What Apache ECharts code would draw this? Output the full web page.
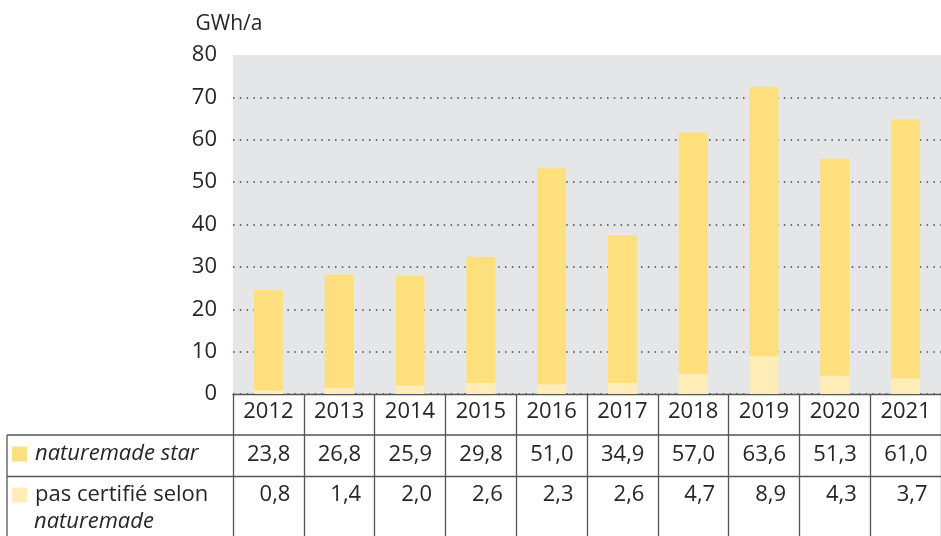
<!DOCTYPE html>
<html>
<head>
<meta charset="utf-8">
<script src="https://cdn.jsdelivr.net/npm/echarts@6/dist/echarts.min.js"></script>
<style>
    html, body { margin: 0; padding: 0; background: #fff; }
    #chart { width: 941px; height: 536px; }
</style>
</head>
<body>
<div id="chart"></div>
<script>
// data
const years = ['2012', '2013', '2014', '2015', '2016', '2017', '2018', '2019', '2020', '2021'];
const starValues = [23.8, 26.8, 25.9, 29.8, 51.0, 34.9, 57.0, 63.6, 51.3, 61.0];
const otherValues = [0.8, 1.4, 2.0, 2.6, 2.3, 2.6, 4.7, 8.9, 4.3, 3.7];
const yMin = 0, yMax = 80, yStep = 10;
const unitLabel = 'GWh/a';
const starName = 'naturemade star';
const otherName = 'pas certifié selon naturemade';

const FONT = 'Open Sans';
const SIZE = 22;
const TEXT = '#262626';
const LINE = '#555';
const STAR = '#fedf7e';
const OTHER = '#ffedb8';

const fmt = v => v.toFixed(1).replace('.', ',');

const chart = echarts.init(document.getElementById('chart'), null, { renderer: 'canvas' });

chart.setOption({
    animation: false,
    textStyle: { fontFamily: FONT },
    grid: {
        left: 233, top: 55, width: 717, bottom: 142,
        show: true, backgroundColor: '#e5e6e8', borderWidth: 0
    },
    legend: {
        orient: 'vertical',
        left: 12, top: 443, padding: 0,
        itemWidth: 15, itemHeight: 15, itemGap: 19,
        icon: 'rect',
        selectedMode: false,
        data: [starName, otherName],
        formatter: name => name === starName ? '{i|' + name + '}' : '{n|pas certifié selon}',
        textStyle: {
            color: TEXT, fontSize: SIZE, padding: [0, 0, 0, 3],
            rich: {
                i: { fontStyle: 'italic', fontSize: SIZE, color: TEXT, fontFamily: FONT, lineHeight: 24 },
                n: { fontSize: SIZE, color: TEXT, fontFamily: FONT, lineHeight: 24 }
            }
        }
    },
    xAxis: {
        type: 'category',
        data: years,
        axisLine: { show: true, lineStyle: { color: LINE, width: 1.3 } },
        axisTick: { show: true, length: 142, interval: 0, lineStyle: { color: LINE, width: 1.3 } },
        axisLabel: { color: TEXT, fontSize: SIZE, margin: 7, interval: 0 },
        splitLine: { show: false }
    },
    yAxis: {
        type: 'value',
        min: yMin, max: yMax, interval: yStep,
        name: unitLabel,
        nameLocation: 'end',
        nameGap: 20,
        nameTextStyle: { color: TEXT, fontSize: 21, padding: [0, 8, 0, 0] },
        axisLine: { show: false },
        axisTick: { show: false },
        axisLabel: { color: TEXT, fontSize: SIZE, margin: 16 },
        splitLine: {
            show: true, showMaxLine: false,
            lineStyle: { color: '#444', width: 1.5, type: [1.5, 5.3] }
        }
    },
    series: [
        {
            name: otherName, type: 'bar', stack: 'total',
            barWidth: 29, data: otherValues,
            itemStyle: { color: OTHER }
        },
        {
            name: starName, type: 'bar', stack: 'total',
            barWidth: 29, data: starValues,
            itemStyle: { color: STAR }
        }
    ]
});

// table below the chart
const graphics = [];
const lineStyle = { stroke: LINE, lineWidth: 1.3 };
[435, 476.5].forEach(y => {
    graphics.push({ type: 'line', shape: { x1: 7, y1: y, x2: 941, y2: y }, style: lineStyle, silent: true });
});
graphics.push({ type: 'line', shape: { x1: 7, y1: 435, x2: 7, y2: 536 }, style: lineStyle, silent: true });

years.forEach((yr, i) => {
    const cx = chart.convertToPixel({ xAxisIndex: 0 }, yr);
    [[starValues, 455], [otherValues, 495]].forEach(([arr, y]) => {
        graphics.push({
            type: 'text', silent: true,
            x: cx + 22, y: y,
            style: {
                text: fmt(arr[i]), fill: TEXT, font: SIZE + 'px "' + FONT + '"',
                align: 'right', verticalAlign: 'middle'
            }
        });
    });
});

graphics.push({
    type: 'text', silent: true, x: 34, y: 522,
    style: { text: otherName.split(' ').pop(), fill: TEXT, font: 'italic ' + SIZE + 'px "' + FONT + '"', verticalAlign: 'middle' }
});

chart.setOption({ graphic: graphics });
</script>
</body>
</html>
